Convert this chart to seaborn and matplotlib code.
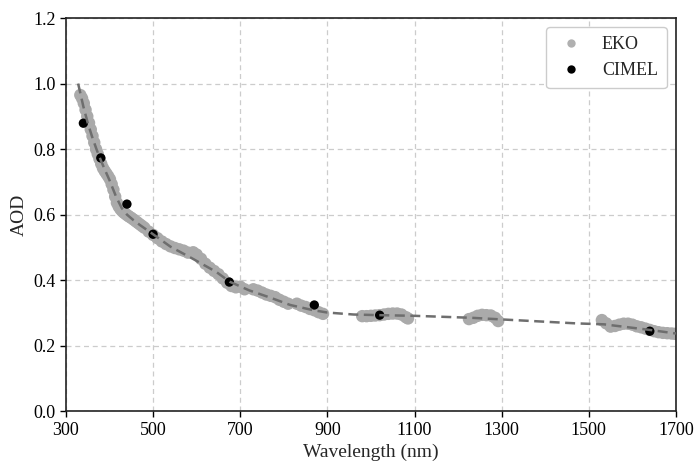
import matplotlib
matplotlib.use("Agg")
import matplotlib.pyplot as plt
from matplotlib.lines import Line2D
import seaborn as sns
import pandas as pd

# EKO spectral AOD
eko_wl = [333, 337, 341, 345, 349, 353, 357, 361, 365, 369, 373, 377, 381, 385, 389,
          393, 397, 401, 405, 409, 413, 417, 421, 425, 429, 433, 437, 441, 445, 450,
          455, 460, 465, 470, 475,
          480, 490, 500, 510, 520, 530, 540, 550, 560, 570, 580,
          592, 600, 610, 620, 630, 640, 650, 660, 670, 680, 690, 700, 710,
          730, 740, 750, 760, 770, 780, 790, 800, 810,
          830, 840, 850, 860, 870, 880, 890,
          980, 990, 1000, 1010, 1020, 1030, 1040, 1050, 1060, 1070, 1080, 1085,
          1225, 1235, 1245, 1255, 1265, 1275, 1285, 1292,
          1530, 1540, 1550, 1560, 1570, 1580, 1590, 1600, 1610, 1620, 1630, 1640,
          1650, 1660, 1670, 1680, 1690, 1698]
eko_aod = [0.965, 0.955, 0.940, 0.920, 0.900, 0.880, 0.860, 0.840, 0.820, 0.800, 0.785,
           0.770, 0.755, 0.742, 0.733, 0.725, 0.717, 0.708, 0.693, 0.676, 0.655, 0.636,
           0.625, 0.617, 0.611, 0.606, 0.602, 0.598, 0.594, 0.590,
           0.585, 0.580, 0.575, 0.570, 0.565,
           0.560, 0.548, 0.538, 0.528, 0.518, 0.510, 0.503,
           0.498, 0.494, 0.490, 0.484,
           0.485, 0.478, 0.465, 0.450, 0.438, 0.428, 0.418, 0.405, 0.392, 0.382, 0.378,
           0.380, 0.372,
           0.372, 0.368, 0.362, 0.356, 0.352, 0.348, 0.340, 0.334, 0.328,
           0.328, 0.322, 0.318, 0.312, 0.308, 0.302, 0.297,
           0.290, 0.290, 0.291, 0.292, 0.293, 0.295, 0.297, 0.298, 0.298, 0.295, 0.287, 0.283,
           0.281, 0.285, 0.291, 0.294, 0.293, 0.292, 0.285, 0.275,
           0.278, 0.268, 0.258, 0.260, 0.264, 0.267, 0.267, 0.264, 0.259, 0.256, 0.252,
           0.248, 0.244, 0.241, 0.239, 0.238, 0.237, 0.236]

# CIMEL AOD
cimel_wl = [340, 380, 440, 500, 675, 870, 1020, 1640]
cimel_aod = [0.879, 0.773, 0.632, 0.540, 0.394, 0.324, 0.293, 0.244]

# Fitted curve (dashed)
fit_wl = [328, 340, 350, 360, 370, 380, 390, 400, 415, 428, 440, 455, 470, 500, 540,
          590, 645, 676, 720, 770, 815, 868, 900, 960, 1020, 1100, 1230, 1300, 1470,
          1535, 1640, 1700]
fit_aod = [1.000, 0.930, 0.880, 0.838, 0.800, 0.766, 0.735, 0.705, 0.655, 0.620, 0.600,
           0.583, 0.568, 0.540, 0.502, 0.466, 0.425, 0.395, 0.369, 0.346, 0.324, 0.308,
           0.301, 0.295, 0.293, 0.291, 0.285, 0.280, 0.268, 0.265, 0.248, 0.237]

x_ticks = [300, 500, 700, 900, 1100, 1300, 1500, 1700]
y_ticks = [0.0, 0.2, 0.4, 0.6, 0.8, 1.0, 1.2]

sns.set_style("white")
plt.rcParams['font.family'] = ['Liberation Serif', 'DejaVu Serif']
plt.rcParams['font.size'] = 13

eko = pd.DataFrame({"wl": eko_wl, "aod": eko_aod})
cim = pd.DataFrame({"wl": cimel_wl, "aod": cimel_aod})
fit = pd.DataFrame({"wl": fit_wl, "aod": fit_aod})

fig = plt.figure(figsize=(6.94, 4.63), dpi=100)
ax = fig.add_axes([0.095, 0.112, 0.879, 0.849])

ax.grid(True, linestyle=(0, (4, 3)), color='#cccccc', linewidth=0.9, zorder=0)
ax.set_axisbelow(True)

sns.scatterplot(data=eko, x="wl", y="aod", ax=ax, color='#aaaaaa', s=80,
                edgecolor='none', linewidth=0, zorder=2)
sns.scatterplot(data=cim, x="wl", y="aod", ax=ax, color='black', s=45,
                edgecolor='none', linewidth=0, zorder=3)
sns.lineplot(data=fit, x="wl", y="aod", ax=ax, color='#6e6e6e', linewidth=1.8,
             linestyle=(0, (4, 2.2)), zorder=4, sort=False)

ax.set_xlim(300, 1700)
ax.set_ylim(0, 1.2)
ax.set_xticks(x_ticks)
ax.set_xticklabels([str(t) for t in x_ticks])
ax.set_yticks(y_ticks)
ax.set_yticklabels([f"{t:.1f}" for t in y_ticks])
ax.tick_params(axis='both', which='major', direction='out', length=4, width=1,
               labelsize=13, colors='black', bottom=True, left=True)
for sp in ax.spines.values():
    sp.set_color('#222222')
    sp.set_linewidth(1.2)

ax.set_xlabel("Wavelength (nm)", fontsize=14)
ax.set_ylabel("AOD", fontsize=14)

handles = [
    Line2D([], [], linestyle='none', marker='o', markersize=6, color='#b0b0b0',
           markeredgewidth=0, label='EKO'),
    Line2D([], [], linestyle='none', marker='o', markersize=6, color='black',
           markeredgewidth=0, label='CIMEL'),
]
ax.legend(handles=handles, loc='upper right', fontsize=13, frameon=True,
          fancybox=True, edgecolor='#cccccc', framealpha=1.0, borderpad=0.5,
          handletextpad=0.8, labelspacing=0.5, handlelength=1.8)

fig.savefig("out.png", dpi=100)
